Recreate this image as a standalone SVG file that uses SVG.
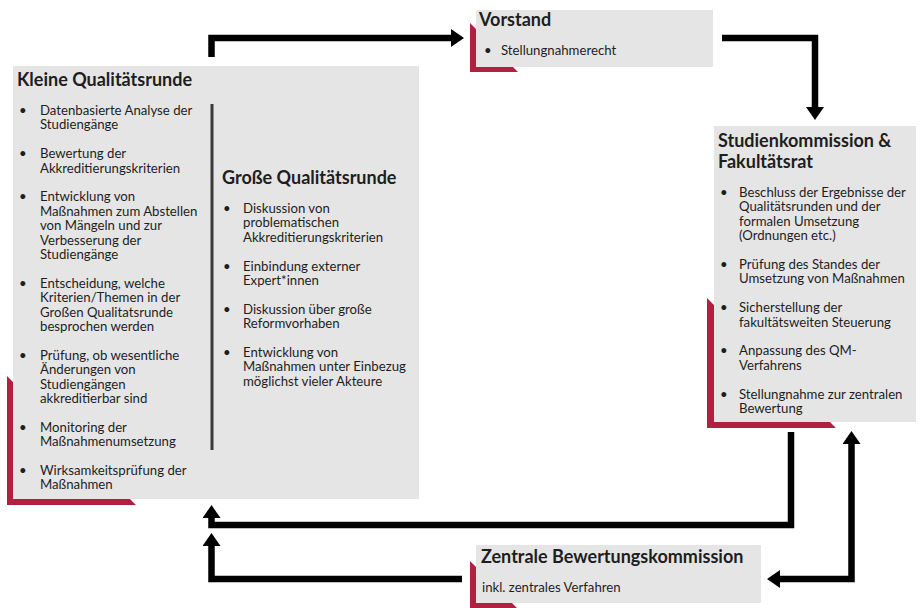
<svg xmlns="http://www.w3.org/2000/svg" width="920" height="608" viewBox="0 0 920 608">
<style>
.box{fill:#e5e5e5}
.acc{fill:#b1203f}
.t{font-family:Lato,"Open Sans","Noto Sans",sans-serif;fill:#1e1e1e}
.h{font-size:18px;font-weight:bold}
.b{font-size:13.2px}
.con{fill:none;stroke:#000;stroke-width:6.5;stroke-linejoin:miter}
</style>
<defs>
<marker id="ah" markerUnits="userSpaceOnUse" markerWidth="13" markerHeight="18" refX="0" refY="9" orient="auto-start-reverse" viewBox="0 0 13 18">
<path d="M0,0 L13,9 L0,18 z" fill="#000"/>
</marker>
</defs>
<rect width="920" height="608" fill="#fff"/>

<g id="kleine">
<polygon class="acc" points="7,376 13,382 13,499 130,499 136,505 7,505"/>
<rect class="box" x="13" y="66" width="406" height="433"/>
<text class="t h" x="17" y="86">Kleine Qualitätsrunde</text>
<g class="t b">
<text x="19" y="115">•</text>
<text x="40" y="115">Datenbasierte Analyse der<tspan x="40" dy="14.4">Studiengänge</tspan></text>
<text x="19" y="158.2">•</text>
<text x="40" y="158.2">Bewertung der<tspan x="40" dy="14.4">Akkreditierungskriterien</tspan></text>
<text x="19" y="201.4">•</text>
<text x="40" y="201.4">Entwicklung von<tspan x="40" dy="14.4">Maßnahmen zum Abstellen</tspan><tspan x="40" dy="14.4">von Mängeln und zur</tspan><tspan x="40" dy="14.4">Verbesserung der</tspan><tspan x="40" dy="14.4">Studiengänge</tspan></text>
<text x="19" y="287.8">•</text>
<text x="40" y="287.8">Entscheidung, welche<tspan x="40" dy="14.4">Kriterien/Themen in der</tspan><tspan x="40" dy="14.4">Großen Qualitatsrunde</tspan><tspan x="40" dy="14.4">besprochen werden</tspan></text>
<text x="19" y="359.8">•</text>
<text x="40" y="359.8">Prüfung, ob wesentliche<tspan x="40" dy="14.4">Änderungen von</tspan><tspan x="40" dy="14.4">Studiengängen</tspan><tspan x="40" dy="14.4">akkreditierbar sind</tspan></text>
<text x="19" y="431.8">•</text>
<text x="40" y="431.8">Monitoring der<tspan x="40" dy="14.4">Maßnahmenumsetzung</tspan></text>
<text x="19" y="475">•</text>
<text x="40" y="475">Wirksamkeitsprüfung der<tspan x="40" dy="14.4">Maßnahmen</tspan></text>
</g>
<line x1="212" y1="104" x2="212" y2="450" stroke="#3a3a3a" stroke-width="3"/>
</g>

<g id="grosse">
<text class="t h" x="222" y="184">Große Qualitätsrunde</text>
<g class="t b">
<text x="223" y="213">•</text>
<text x="243" y="213">Diskussion von<tspan x="243" dy="14.4">problematischen</tspan><tspan x="243" dy="14.4">Akkreditierungskriterien</tspan></text>
<text x="223" y="270.6">•</text>
<text x="243" y="270.6">Einbindung externer<tspan x="243" dy="14.4">Expert*innen</tspan></text>
<text x="223" y="313.8">•</text>
<text x="243" y="313.8">Diskussion über große<tspan x="243" dy="14.4">Reformvorhaben</tspan></text>
<text x="223" y="357">•</text>
<text x="243" y="357">Entwicklung von<tspan x="243" dy="14.4">Maßnahmen unter Einbezug</tspan><tspan x="243" dy="14.4">möglichst vieler Akteure</tspan></text>
</g>
</g>

<g id="vorstand">
<polygon class="acc" points="470,23 476,29 476,67 513,67 518,72 470,72"/>
<rect class="box" x="476" y="10" width="237" height="57"/>
<text class="t h" x="479" y="26">Vorstand</text>
<text class="t b" x="484" y="55">•</text>
<text class="t b" x="501" y="55">Stellungnahmerecht</text>
</g>

<g id="studienkommission">
<polygon class="acc" points="707,298 714,305 714,422 830,422 836,428 707,428"/>
<rect class="box" x="714" y="126" width="202" height="296"/>
<text class="t h" x="718" y="146.5">Studienkommission &amp;<tspan x="718" dy="21.8">Fakultätsrat</tspan></text>
<g class="t b">
<text x="720" y="197">•</text>
<text x="739" y="197">Beschluss der Ergebnisse der<tspan x="739" dy="14.4">Qualitätsrunden und der</tspan><tspan x="739" dy="14.4">formalen Umsetzung</tspan><tspan x="739" dy="14.4">(Ordnungen etc.)</tspan></text>
<text x="720" y="269">•</text>
<text x="739" y="269">Prüfung des Standes der<tspan x="739" dy="14.4">Umsetzung von Maßnahmen</tspan></text>
<text x="720" y="312.2">•</text>
<text x="739" y="312.2">Sicherstellung der<tspan x="739" dy="14.4">fakultätsweiten Steuerung</tspan></text>
<text x="720" y="355.4">•</text>
<text x="739" y="355.4">Anpassung des QM-<tspan x="739" dy="14.4">Verfahrens</tspan></text>
<text x="720" y="398.6">•</text>
<text x="739" y="398.6">Stellungnahme zur zentralen<tspan x="739" dy="14.4">Bewertung</tspan></text>
</g>
</g>

<g id="zentrale">
<polygon class="acc" points="470,561 476,567 476,603 512,603 517,608 470,608"/>
<rect class="box" x="476" y="545" width="285" height="58"/>
<text class="t h" x="481" y="563">Zentrale Bewertungskommission</text>
<text class="t b" x="482" y="592">inkl. zentrales Verfahren</text>
</g>

<g id="connectors">
<path class="con" d="M211.5,57 V38 H451" marker-end="url(#ah)"/>
<path class="con" d="M722,38 H815 V107" marker-end="url(#ah)"/>
<path class="con" d="M791,432 V525 H211.5 V518" marker-end="url(#ah)"/>
<path class="con" d="M462,579 H211.5 V546" marker-end="url(#ah)"/>
<path class="con" d="M780,579 H851.5 V444" marker-start="url(#ah)" marker-end="url(#ah)"/>
</g>
</svg>
